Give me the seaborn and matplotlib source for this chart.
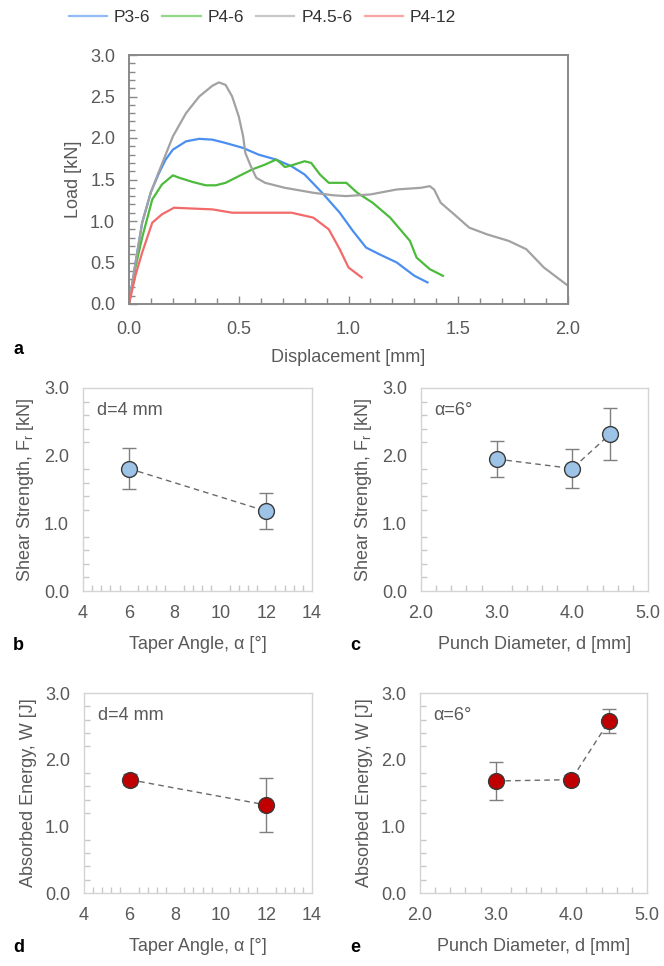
import numpy as np
import pandas as pd
import matplotlib
matplotlib.use("Agg")
import matplotlib.pyplot as plt
from matplotlib.ticker import MultipleLocator
import seaborn as sns

# --- load-displacement curves (panel a) ---
p36_x = [0, 0.03, 0.06, 0.1, 0.137, 0.167, 0.2, 0.26, 0.32, 0.38, 0.44, 0.52, 0.59, 0.67,
         0.74, 0.8, 0.88, 0.96, 1.02, 1.08, 1.14, 1.22, 1.3, 1.36]
p36_y = [0, 0.5, 0.98, 1.35, 1.58, 1.74, 1.86, 1.96, 1.99, 1.98, 1.94, 1.88, 1.8, 1.74,
         1.66, 1.56, 1.34, 1.1, 0.88, 0.68, 0.6, 0.5, 0.34, 0.26]
p46_x = [0, 0.03, 0.06, 0.106, 0.15, 0.2, 0.23, 0.29, 0.35, 0.395, 0.44, 0.5, 0.56, 0.62,
         0.67, 0.69, 0.71, 0.74, 0.8, 0.83, 0.87, 0.91, 0.99, 1.04, 1.11, 1.19, 1.28, 1.31,
         1.37, 1.43]
p46_y = [0, 0.45, 0.8, 1.26, 1.44, 1.55, 1.52, 1.47, 1.43, 1.43, 1.46, 1.54, 1.62, 1.68,
         1.74, 1.7, 1.65, 1.67, 1.72, 1.7, 1.56, 1.46, 1.46, 1.34, 1.22, 1.04, 0.76, 0.56,
         0.42, 0.34]
p456_x = [0, 0.03, 0.06, 0.1, 0.137, 0.2, 0.26, 0.32, 0.38, 0.41, 0.44, 0.47, 0.5, 0.52,
          0.53, 0.555, 0.58, 0.62, 0.71, 0.84, 0.93, 0.99, 1.1, 1.22, 1.33, 1.37, 1.39,
          1.42, 1.49, 1.55, 1.63, 1.73, 1.81, 1.89, 2.0]
p456_y = [0, 0.5, 0.98, 1.35, 1.6, 2.02, 2.3, 2.5, 2.63, 2.67, 2.64, 2.5, 2.26, 2.02,
          1.82, 1.66, 1.52, 1.46, 1.4, 1.34, 1.31, 1.3, 1.32, 1.38, 1.4, 1.42, 1.38,
          1.22, 1.06, 0.92, 0.84, 0.76, 0.66, 0.44, 0.22]
p412_x = [0, 0.03, 0.06, 0.106, 0.15, 0.205, 0.29, 0.38, 0.47, 0.59, 0.74, 0.84, 0.91,
          0.96, 1.0, 1.06]
p412_y = [0, 0.35, 0.62, 0.98, 1.08, 1.16, 1.15, 1.14, 1.1, 1.1, 1.1, 1.04, 0.9, 0.66,
          0.44, 0.32]
series_names = ["P3-6", "P4-6", "P4.5-6", "P4-12"]
series_colors = ["#4a8ff0", "#4cbb3c", "#a2a2a2", "#f26a6a"]

# --- summary panels b-e ---
angle = [6, 12]
diam = [3.0, 4.0, 4.5]
shear_angle = [1.81, 1.18]
shear_angle_err = [0.30, 0.27]
shear_diam = [1.95, 1.81, 2.32]
shear_diam_err = [0.27, 0.29, 0.38]
energy_angle = [1.70, 1.32]
energy_angle_err = [0.08, 0.41]
energy_diam = [1.68, 1.70, 2.58]
energy_diam_err = [0.28, 0.07, 0.18]

TXT = "#595959"
plt.rcParams["font.family"] = ["Liberation Sans", "DejaVu Sans"]
plt.rcParams["mathtext.fontset"] = "custom"
plt.rcParams["mathtext.rm"] = "Liberation Sans"
plt.rcParams["text.color"] = TXT
plt.rcParams["axes.labelcolor"] = TXT
plt.rcParams["xtick.color"] = TXT
plt.rcParams["ytick.color"] = TXT

W, H = 664, 966
fig = plt.figure(figsize=(W / 100, H / 100), dpi=100)


def frac(l, t, r, b):
    return [l / W, 1 - b / H, (r - l) / W, (b - t) / H]


# panel a
ax = fig.add_axes(frac(129, 55, 568, 304))
curves = []
for name, xs, ys in zip(series_names, [p36_x, p46_x, p456_x, p412_x],
                        [p36_y, p46_y, p456_y, p412_y]):
    curves.append(pd.DataFrame({"disp": xs, "load": ys, "series": name}))
df = pd.concat(curves, ignore_index=True)
sns.lineplot(data=df, x="disp", y="load", hue="series", hue_order=series_names,
             palette=series_colors, sort=False, estimator=None, lw=1.6, ax=ax)
ax.set_xlim(0, 2.0)
ax.set_ylim(0, 3.0)
ax.xaxis.set_major_locator(MultipleLocator(0.5))
ax.xaxis.set_minor_locator(MultipleLocator(0.1))
ax.yaxis.set_major_locator(MultipleLocator(0.5))
ax.yaxis.set_minor_locator(MultipleLocator(0.1))
ax.xaxis.set_major_formatter(lambda v, p: f"{v:.1f}")
ax.yaxis.set_major_formatter(lambda v, p: f"{v:.1f}")
for s in ax.spines.values():
    s.set_color("#898989")
    s.set_linewidth(1.4)
ax.tick_params(which="both", direction="in", color="#898989", labelsize=13, width=1)
ax.tick_params(which="major", length=6)
ax.tick_params(which="minor", length=4)
ax.tick_params(axis="x", pad=12)
ax.tick_params(axis="y", pad=10)
ax.set_xlabel("Displacement [mm]", fontsize=13, labelpad=8)
ax.set_ylabel("Load [kN]", fontsize=13, labelpad=6)
handles, labels = ax.get_legend_handles_labels()
ax.get_legend().remove()
for h in handles:
    h.set_alpha(0.6)
leg = fig.legend(handles, labels, loc="center", bbox_to_anchor=(0.395, 0.982), ncol=4,
                 frameon=False, fontsize=12.5, handlelength=2.2, columnspacing=0.7,
                 handletextpad=0.4)
for t in leg.get_texts():
    t.set_color("#333333")
fig.text(13 / W, 1 - 350 / H, "a", fontsize=13, fontweight="bold", color="black",
         va="center")


def summary(box, xs, ys, errs, face, xlim, xmaj, xmin, xfmt, ylabel, xlabel, note,
            letter, letter_x):
    a = fig.add_axes(frac(*box))
    d = pd.DataFrame({"x": xs, "y": ys})
    a.errorbar(xs, ys, yerr=errs, fmt="none", ecolor="#7f7f7f", elinewidth=1,
               capsize=5, capthick=1, zorder=2)
    sns.lineplot(data=d, x="x", y="y", color="#6a6a6a", lw=1, ls=(0, (4, 3)),
                 ax=a, zorder=3)
    sns.scatterplot(data=d, x="x", y="y", color=face, edgecolor="#3a3a3a",
                    linewidth=1, s=130, ax=a, zorder=4)
    a.set_xlim(*xlim)
    a.set_ylim(0, 3.0)
    a.xaxis.set_major_locator(MultipleLocator(xmaj))
    a.xaxis.set_minor_locator(MultipleLocator(xmin))
    a.yaxis.set_major_locator(MultipleLocator(1.0))
    a.yaxis.set_minor_locator(MultipleLocator(0.2))
    a.xaxis.set_major_formatter(lambda v, p: xfmt.format(v))
    a.yaxis.set_major_formatter(lambda v, p: f"{v:.1f}")
    for s in a.spines.values():
        s.set_color("#d4d4d4")
        s.set_linewidth(1)
    a.tick_params(which="both", direction="in", color="#c8c8c8", labelsize=13, width=1)
    a.tick_params(which="major", length=0)
    a.tick_params(which="minor", length=4)
    a.tick_params(axis="x", pad=10)
    a.tick_params(axis="y", pad=10)
    a.set_xlabel(xlabel, fontsize=13, labelpad=10)
    a.set_ylabel(ylabel, fontsize=13, labelpad=6)
    a.text(0.06, 0.93, note, transform=a.transAxes, fontsize=13, va="top", color=TXT)
    fig.text(letter_x / W, 1 - (box[3] + 54) / H, letter, fontsize=13,
             fontweight="bold", color="black", va="center")
    return a


ylab_f = r"Shear Strength, F$_\mathregular{r}$ [kN]"
ylab_w = "Absorbed Energy, W [J]"
xlab_a = "Taper Angle, α [°]"
xlab_d = "Punch Diameter, d [mm]"

summary((83, 388, 312, 591), angle, shear_angle, shear_angle_err, "#9dc3e6",
        (4, 14), 2, 0.4, "{:.0f}", ylab_f, xlab_a, "d=4 mm", "b", 13)
summary((421, 388, 648, 591), diam, shear_diam, shear_diam_err, "#9dc3e6",
        (2.0, 5.0), 1.0, 0.2, "{:.1f}", ylab_f, xlab_d, "α=6°", "c", 350)
summary((84, 693, 312, 893), angle, energy_angle, energy_angle_err, "#c00000",
        (4, 14), 2, 0.4, "{:.0f}", ylab_w, xlab_a, "d=4 mm", "d", 13)
summary((420, 693, 647, 893), diam, energy_diam, energy_diam_err, "#c00000",
        (2.0, 5.0), 1.0, 0.2, "{:.1f}", ylab_w, xlab_d, "α=6°", "e", 350)

fig.savefig("out.png", dpi=100)
